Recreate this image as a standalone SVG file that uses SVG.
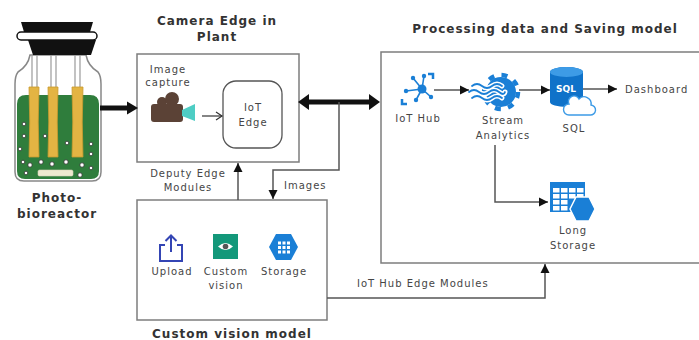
<svg xmlns="http://www.w3.org/2000/svg" width="699" height="340" viewBox="0 0 699 340">
  <style>
    .lbl { font-family: "DejaVu Sans", Verdana, sans-serif; font-size: 10px; fill: #454545; letter-spacing: 1px; }
    .ttl { font-family: "DejaVu Sans", Verdana, sans-serif; font-size: 12px; font-weight: bold; fill: #333; letter-spacing: 1px; }
    .box { fill: #fff; stroke: #7d7d7d; stroke-width: 1.5; }
    .conn { fill: none; stroke: #555; stroke-width: 1.5; }
    .az { fill: #1a7fd6; }
  </style>
  <defs>
    <marker id="tri" markerUnits="userSpaceOnUse" markerWidth="10" markerHeight="10" refX="9" refY="5" orient="auto">
      <path d="M0,0.5 L9,5 L0,9.5 z" fill="#111"/>
    </marker>
    <marker id="chev" markerUnits="userSpaceOnUse" markerWidth="10" markerHeight="10" refX="8" refY="5" orient="auto">
      <path d="M2,1 L8,5 L2,9" fill="none" stroke="#333" stroke-width="1.2"/>
    </marker>
  </defs>
  <rect width="699" height="340" fill="#fff"/>

  <!-- Photo-bioreactor -->
  <g id="bioreactor">
    <path d="M30,55 L86,55 Q88,66 98,72 Q101,76 101,84 L101,172 Q101,181 92,181 L24,181 Q15,181 15,172 L15,84 Q15,76 18,72 Q28,66 30,55 z" fill="#fff" stroke="#888" stroke-width="1.5"/>
    <path d="M17,104 Q17,95 26,95 L90,95 Q99,95 99,104 L99,171 Q99,179 91,179 L25,179 Q17,179 17,171 z" fill="#2f7d3c"/>
    <!-- wires -->
    <g stroke="#9a9a9a" stroke-width="1.2">
      <line x1="32" y1="55" x2="32" y2="88"/><line x1="37" y1="55" x2="37" y2="88"/>
      <line x1="51" y1="55" x2="51" y2="88"/><line x1="56" y1="55" x2="56" y2="88"/>
      <line x1="75" y1="55" x2="75" y2="88"/><line x1="80" y1="55" x2="80" y2="88"/>
    </g>
    <!-- rods -->
    <g fill="#e3b443" stroke="#c99a2e" stroke-width="0.8">
      <path d="M29,87 h10 q-1.5,35 0,70 h-10 q1.5,-35 0,-70 z"/>
      <path d="M48,87 h10 q-1.5,35 0,70 h-10 q1.5,-35 0,-70 z"/>
      <path d="M72,87 h11 q-1.5,35 0,70 h-11 q1.5,-35 0,-70 z"/>
    </g>
    <!-- bubbles -->
    <g fill="#fff" stroke="#333" stroke-width="0.8">
      <circle cx="24" cy="124" r="1.8"/><circle cx="24" cy="136" r="1.8"/><circle cx="20" cy="149" r="1.8"/>
      <circle cx="45" cy="136" r="1.8"/><circle cx="67" cy="143" r="1.8"/><circle cx="91" cy="144" r="1.8"/>
      <circle cx="91" cy="154" r="1.8"/><circle cx="23" cy="162" r="1.8"/><circle cx="30" cy="165" r="2.2"/>
      <circle cx="41" cy="162" r="2.2"/><circle cx="52" cy="164" r="2.2"/><circle cx="66" cy="162" r="2.2"/>
      <circle cx="82" cy="165" r="2.2"/><circle cx="91" cy="168" r="1.8"/><circle cx="80" cy="175" r="2.2"/>
      <circle cx="26" cy="173" r="1.8"/>
    </g>
    <rect x="38" y="170" width="35" height="6" rx="1.5" fill="#eee9cf" stroke="#d8d3b8" stroke-width="0.6"/>
    <!-- cap -->
    <path d="M28,40 L96,40 L91,55 L33,55 z" fill="#111"/>
    <rect x="17" y="32" width="80" height="8" rx="4" fill="#fff" stroke="#111" stroke-width="1.5"/>
    <path d="M21,22 L93,22 L90,32 L24,32 z" fill="#111"/>
    <text class="ttl" x="57" y="202" text-anchor="middle" fill="#444">Photo-</text>
    <text class="ttl" x="57" y="218" text-anchor="middle">bioreactor</text>
  </g>

  <!-- Camera Edge in Plant -->
  <g id="camera-edge">
    <text class="ttl" x="217" y="25" text-anchor="middle">Camera Edge in</text>
    <text class="ttl" x="217" y="41" text-anchor="middle">Plant</text>
    <rect class="box" x="137" y="54" width="162" height="108"/>
    <text class="lbl" x="168" y="73" text-anchor="middle">Image</text>
    <text class="lbl" x="168" y="86" text-anchor="middle">capture</text>
    <!-- camera icon -->
    <g fill="#5b4236">
      <circle cx="162" cy="102" r="5"/>
      <circle cx="172" cy="99" r="7"/>
      <rect x="151" y="104" width="32" height="18" rx="3"/>
    </g>
    <path d="M182,110 L195,104 L195,121 L182,116 z" fill="#4ecdc4"/>
  </g>
  <g id="iot-edge">
    <rect x="223" y="81" width="59" height="67" rx="13" fill="#fff" stroke="#555" stroke-width="1.3"/>
    <text class="lbl" x="253" y="111" text-anchor="middle">IoT</text>
    <text class="lbl" x="253" y="126" text-anchor="middle">Edge</text>
  </g>

  <!-- Custom vision model -->
  <g id="custom-vision">
    <rect class="box" x="137" y="200" width="190" height="120"/>
    <text class="ttl" x="232" y="338" text-anchor="middle">Custom vision model</text>
    <!-- upload -->
    <g fill="none" stroke="#3445b4" stroke-width="2">
      <path d="M165,245 H160 V261 H182 V245 H177"/>
      <path d="M171,252 V236 M165.5,241 L171,235.5 L176.5,241"/>
    </g>
    <!-- custom vision -->
    <rect x="213" y="234" width="25" height="25" fill="#13987a"/>
    <path d="M218,246.5 Q225.5,239.5 233,246.5 Q225.5,253.5 218,246.5 z" fill="#fff"/>
    <circle cx="225.5" cy="246.5" r="2.8" fill="#555"/>
    <!-- storage -->
    <polygon points="269,247 276,234 291,234 298,247 291,260 276,260" fill="#1a7fd6"/>
    <g fill="#fff">
      <rect x="278" y="241.5" width="3" height="3"/><rect x="282.5" y="241.5" width="3" height="3"/><rect x="287" y="241.5" width="3" height="3"/>
      <rect x="278" y="246" width="3" height="3"/><rect x="282.5" y="246" width="3" height="3"/><rect x="287" y="246" width="3" height="3"/>
      <rect x="278" y="250.5" width="3" height="3"/><rect x="282.5" y="250.5" width="3" height="3"/><rect x="287" y="250.5" width="3" height="3"/>
    </g>
    <text class="lbl" x="172" y="275" text-anchor="middle">Upload</text>
    <text class="lbl" x="226" y="275" text-anchor="middle">Custom</text>
    <text class="lbl" x="226" y="289" text-anchor="middle">vision</text>
    <text class="lbl" x="284" y="275" text-anchor="middle">Storage</text>
  </g>

  <!-- Processing data and Saving model -->
  <g id="processing">
    <text class="ttl" x="545" y="33" text-anchor="middle">Processing data and Saving model</text>
    <rect class="box" x="381" y="52" width="340" height="211"/>
  </g>
  <g id="iot-hub">
    <g stroke="#1a7fd6" stroke-width="1.6">
      <line x1="422" y1="89" x2="413" y2="78"/><line x1="422" y1="89" x2="424" y2="76"/>
      <line x1="422" y1="89" x2="406" y2="91"/><line x1="422" y1="89" x2="431" y2="97"/>
      <line x1="422" y1="89" x2="416" y2="100"/>
    </g>
    <g class="az">
      <circle cx="422" cy="89" r="4.5"/>
      <circle cx="413" cy="78" r="2.2"/><circle cx="424" cy="76" r="2.2"/>
      <circle cx="406" cy="91" r="2.2"/><circle cx="431" cy="97" r="2.2"/><circle cx="416" cy="100" r="2.2"/>
    </g>
    <path d="M428,74 H433 V79 M402,99 V104 H407" fill="none" stroke="#1a7fd6" stroke-width="2.5"/>
    <text class="lbl" x="418" y="122" text-anchor="middle">IoT Hub</text>
  </g>
  <g id="stream-analytics">
    <circle class="az" cx="501" cy="92" r="15"/>
    <circle cx="501" cy="92" r="17" fill="none" stroke="#1a7fd6" stroke-width="4.5" stroke-dasharray="6 7.35"/>
    <g fill="none" stroke-linecap="round">
      <path d="M472,86 q5,-4 10,0 t10,0 t10,0" stroke="#fff" stroke-width="5"/>
      <path d="M469,92 q5,-4 10,0 t10,0 t10,0 t6,0" stroke="#fff" stroke-width="5"/>
      <path d="M472,98 q5,-4 10,0 t10,0 t10,0" stroke="#fff" stroke-width="5"/>
      <path d="M472,86 q5,-4 10,0 t10,0 t10,0" stroke="#1a7fd6" stroke-width="1.8"/>
      <path d="M469,92 q5,-4 10,0 t10,0 t10,0 t6,0" stroke="#1a7fd6" stroke-width="1.8"/>
      <path d="M472,98 q5,-4 10,0 t10,0 t10,0" stroke="#1a7fd6" stroke-width="1.8"/>
    </g>
    <text class="lbl" x="503" y="124" text-anchor="middle">Stream</text>
    <text class="lbl" x="503" y="139" text-anchor="middle">Analytics</text>
  </g>
  <g id="sql">
    <path d="M550,72 V102 A16.5,5 0 0 0 583,102 V72 A16.5,5 0 0 0 550,72 z" fill="#0f72c9"/>
    <ellipse cx="566.5" cy="72" rx="16.5" ry="5" fill="#3d9be6"/>
    <text x="566" y="92" text-anchor="middle" font-family="'DejaVu Sans', sans-serif" font-size="9" font-weight="bold" fill="#fff">SQL</text>
    <path d="M569,115 H590 A5,5 0 0 0 591,105 A7,7 0 0 0 579,99 A5.5,5.5 0 0 0 569,104 A5.5,5.5 0 0 0 569,115 z" fill="#fff" stroke="#3d9be6" stroke-width="1.4"/>
    <text class="lbl" x="574" y="132" text-anchor="middle">SQL</text>
  </g>
  <g id="dashboard">
    <text class="lbl" x="625" y="93">Dashboard</text>
  </g>
  <g id="long-storage">
    <rect x="550" y="182" width="35" height="30" fill="#1a7fd6"/>
    <g fill="#fff">
      <rect x="553" y="188" width="6.5" height="4.5"/><rect x="561" y="188" width="6.5" height="4.5"/><rect x="569" y="188" width="6.5" height="4.5"/><rect x="577" y="188" width="6.5" height="4.5"/>
      <rect x="553" y="194" width="6.5" height="4.5"/><rect x="561" y="194" width="6.5" height="4.5"/><rect x="569" y="194" width="6.5" height="4.5"/><rect x="577" y="194" width="6.5" height="4.5"/>
      <rect x="553" y="200" width="6.5" height="4.5"/><rect x="561" y="200" width="6.5" height="4.5"/>
      <rect x="553" y="206" width="6.5" height="4.5"/><rect x="561" y="206" width="6.5" height="4.5"/>
    </g>
    <polygon points="570,209 576,197 589,197 595,209 589,221 576,221" fill="#1a7fd6" stroke="#fff" stroke-width="1.5"/>
    <text class="lbl" x="573" y="234" text-anchor="middle">Long</text>
    <text class="lbl" x="573" y="249" text-anchor="middle">Storage</text>
  </g>

  <!-- connectors -->
  <g id="connectors">
    <!-- bioreactor to camera edge -->
    <line x1="100" y1="108" x2="129" y2="108" stroke="#111" stroke-width="5"/>
    <polygon points="138,108 127,101.5 127,114.5" fill="#111"/>
    <!-- camera to IoT Edge -->
    <line x1="202" y1="116" x2="222" y2="116" stroke="#333" stroke-width="1.2" marker-end="url(#chev)"/>
    <!-- camera edge <-> processing -->
    <line x1="306" y1="102" x2="372" y2="102" stroke="#111" stroke-width="5"/>
    <polygon points="298,102 309,94 309,110" fill="#111"/>
    <polygon points="380,102 369,94 369,110" fill="#111"/>
    <!-- Images -->
    <path class="conn" d="M339,102 V170 H273 V199" marker-end="url(#tri)"/>
    <text class="lbl" x="284" y="189">Images</text>
    <!-- Deputy Edge Modules -->
    <path class="conn" d="M238,200 V163" marker-end="url(#tri)"/>
    <text class="lbl" x="188" y="177" text-anchor="middle">Deputy Edge</text>
    <text class="lbl" x="188" y="191" text-anchor="middle">Modules</text>
    <!-- IoT Hub Edge Modules -->
    <path class="conn" d="M327,298 H545 V264" marker-end="url(#tri)"/>
    <text class="lbl" x="357" y="287">IoT Hub Edge Modules</text>
    <!-- processing flow -->
    <path class="conn" d="M434,90 H469" marker-end="url(#tri)"/>
    <path class="conn" d="M519,90 H550" marker-end="url(#tri)"/>
    <path class="conn" d="M583,89 H617" marker-end="url(#tri)"/>
    <path class="conn" d="M495,145 V202 H548" marker-end="url(#tri)"/>
  </g>
</svg>
